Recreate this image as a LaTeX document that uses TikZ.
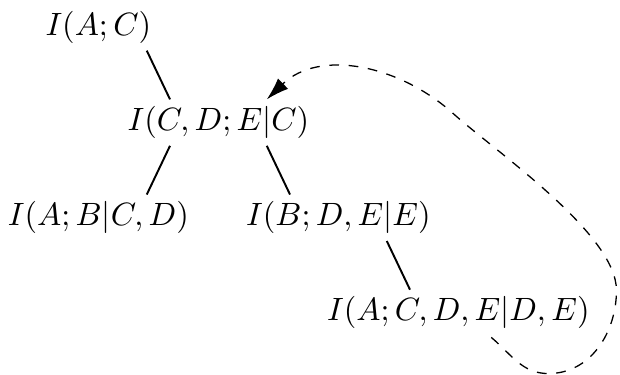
\documentclass[tikz,border=0pt]{standalone}
\usepackage{amsmath}
\usepackage{amssymb}
\usetikzlibrary{arrows.meta}

\begin{document}
\begin{tikzpicture}[every node/.style={inner sep=2pt},
				   level distance=29.5pt,
				   sibling distance=74.4pt,
				   edge from parent/.style={draw, semithick},
				   toleft/.style={edge from parent path={([xshift=-15pt]\tikzparentnode.south) -- ([xshift=15pt]\tikzchildnode.north)}},
				   toright/.style={edge from parent path={([xshift=15pt]\tikzparentnode.south) -- ([xshift=-15pt]\tikzchildnode.north)}}]
\useasboundingbox (-30.5pt,8.5pt) rectangle (161.7pt,-107.7pt);
\node (ac) {$I(A;C)$}
	child[missing]
	child[toright] {node (cde) {$I(C,D;E|C)$}
		child[toleft] {node (abcd) {$I(A;B|C,D)$}}
		child[toright] {node (bde) {$I(B;D,E|E)$}
			child[missing]
			child[toright] {node (acde) {$I(A;C,D,E|D,E)$}}
		}
	}
;
% loop back from the last node
\draw[dashed, -{Latex[length=7pt,width=4.5pt]}] ([shift={(10.2pt,-7.6pt)}]acde.center)
	to[out=-40,in=180] ([shift={(27.9pt,-18.8pt)}]acde.center)
	to[out=0,in=-90] ([shift={(49pt,7pt)}]acde.center)
	to[out=90,in=-42,looseness=0.6] ([shift={(-1.6pt,61.8pt)}]acde.center)
	to[out=138,in=44] ([xshift=15pt]cde.north);
\end{tikzpicture}
\end{document}
